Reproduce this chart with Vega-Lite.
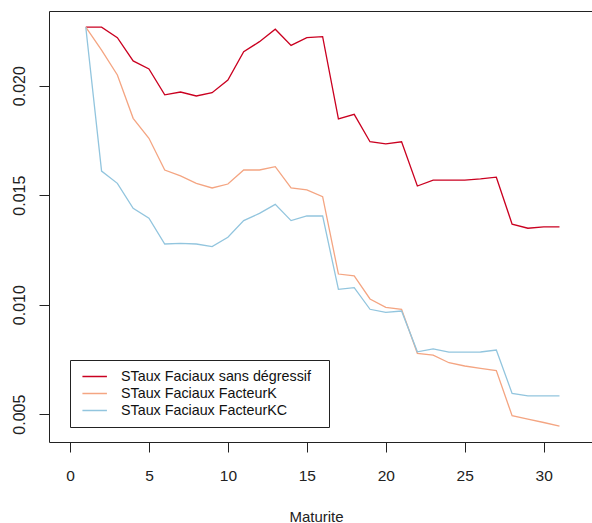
{
  "$schema": "https://vega.github.io/schema/vega-lite/v6.json",
  "autosize": {"type": "none"},
  "padding": {"left": 49, "top": 11, "right": 0, "bottom": 81},
  "width": 543,
  "height": 431,
  "background": "white",
  "config": {
    "view": {"stroke": null},
    "font": "Liberation Sans"
  },
  "datasets": {
    "sans": [
      {"m": 1, "v": 0.02267}, {"m": 2, "v": 0.02267}, {"m": 3, "v": 0.02219}, {"m": 4, "v": 0.02113},
      {"m": 5, "v": 0.02076}, {"m": 6, "v": 0.01958}, {"m": 7, "v": 0.01971}, {"m": 8, "v": 0.01953},
      {"m": 9, "v": 0.01968}, {"m": 10, "v": 0.02026}, {"m": 11, "v": 0.02155}, {"m": 12, "v": 0.02201},
      {"m": 13, "v": 0.02258}, {"m": 14, "v": 0.02184}, {"m": 15, "v": 0.02219}, {"m": 16, "v": 0.02224},
      {"m": 17, "v": 0.01848}, {"m": 18, "v": 0.01869}, {"m": 19, "v": 0.01744}, {"m": 20, "v": 0.01734},
      {"m": 21, "v": 0.01744}, {"m": 22, "v": 0.01542}, {"m": 23, "v": 0.01569}, {"m": 24, "v": 0.01569},
      {"m": 25, "v": 0.01569}, {"m": 26, "v": 0.01574}, {"m": 27, "v": 0.01582}, {"m": 28, "v": 0.01368},
      {"m": 29, "v": 0.01349}, {"m": 30, "v": 0.01355}, {"m": 31, "v": 0.01355}
    ],
    "k": [
      {"m": 1, "v": 0.02267}, {"m": 2, "v": 0.02162}, {"m": 3, "v": 0.02049}, {"m": 4, "v": 0.01851},
      {"m": 5, "v": 0.01760}, {"m": 6, "v": 0.01615}, {"m": 7, "v": 0.01588}, {"m": 8, "v": 0.01554},
      {"m": 9, "v": 0.01533}, {"m": 10, "v": 0.01551}, {"m": 11, "v": 0.01615}, {"m": 12, "v": 0.01615},
      {"m": 13, "v": 0.01630}, {"m": 14, "v": 0.01533}, {"m": 15, "v": 0.01524}, {"m": 16, "v": 0.01493},
      {"m": 17, "v": 0.01140}, {"m": 18, "v": 0.01132}, {"m": 19, "v": 0.01026}, {"m": 20, "v": 0.00988},
      {"m": 21, "v": 0.00979}, {"m": 22, "v": 0.00778}, {"m": 23, "v": 0.00770}, {"m": 24, "v": 0.00735},
      {"m": 25, "v": 0.00720}, {"m": 26, "v": 0.00709}, {"m": 27, "v": 0.00699}, {"m": 28, "v": 0.00493},
      {"m": 29, "v": 0.00477}, {"m": 30, "v": 0.00462}, {"m": 31, "v": 0.00446}
    ],
    "kc": [
      {"m": 1, "v": 0.02267}, {"m": 2, "v": 0.01610}, {"m": 3, "v": 0.01554}, {"m": 4, "v": 0.01440},
      {"m": 5, "v": 0.01395}, {"m": 6, "v": 0.01277}, {"m": 7, "v": 0.01280}, {"m": 8, "v": 0.01277},
      {"m": 9, "v": 0.01265}, {"m": 10, "v": 0.01308}, {"m": 11, "v": 0.01384}, {"m": 12, "v": 0.01417},
      {"m": 13, "v": 0.01458}, {"m": 14, "v": 0.01384}, {"m": 15, "v": 0.01405}, {"m": 16, "v": 0.01405},
      {"m": 17, "v": 0.01070}, {"m": 18, "v": 0.01078}, {"m": 19, "v": 0.00979}, {"m": 20, "v": 0.00965},
      {"m": 21, "v": 0.00971}, {"m": 22, "v": 0.00785}, {"m": 23, "v": 0.00798}, {"m": 24, "v": 0.00783},
      {"m": 25, "v": 0.00783}, {"m": 26, "v": 0.00784}, {"m": 27, "v": 0.00793}, {"m": 28, "v": 0.00595},
      {"m": 29, "v": 0.00584}, {"m": 30, "v": 0.00584}, {"m": 31, "v": 0.00584}
    ]
  },
  "encoding": {
    "y": {
      "field": "v", "type": "quantitative", "title": null,
      "scale": {"domain": [0.00373, 0.02341], "nice": false, "zero": false},
      "axis": {
        "values": [0.005, 0.01, 0.015, 0.02], "format": ".3f", "grid": false,
        "domain": true, "domainColor": "#222", "domainWidth": 1,
        "tickSize": 10, "tickColor": "#222", "labelFontSize": 16, "labelColor": "#222",
        "labelAngle": -90, "labelAlign": "center", "labelBaseline": "alphabetic",
        "labelPadding": 15, "labelFlush": false
      }
    },
    "color": {
      "field": "s", "type": "nominal",
      "scale": {
        "domain": ["STaux Faciaux sans dégressif", "STaux Faciaux FacteurK", "STaux Faciaux FacteurKC"],
        "range": ["#CA0020", "#F4A582", "#92C5DE"]
      },
      "legend": {
        "title": null, "orient": "none", "legendX": 21, "legendY": 349,
        "strokeColor": "#222", "fillColor": "white", "padding": 8,
        "symbolType": "M-0.7,0H1.3", "symbolSize": 600, "symbolStrokeWidth": 1.5,
        "labelFontSize": 14.3, "labelColor": "#111", "labelOffset": 17,
        "clipHeight": 17, "rowPadding": 0, "labelLimit": 300,
        "labelExpr": "datum.label + '\u2800'"
      }
    }
  },
  "resolve": {"axis": {"x": "independent"}},
  "layer": [
    {
      "data": {"name": "sans"},
      "transform": [{"calculate": "'STaux Faciaux sans dégressif'", "as": "s"}],
      "mark": {"type": "line", "strokeWidth": 1.3, "clip": true},
      "encoding": {
        "x": {
          "field": "m", "type": "quantitative", "title": "Maturite",
          "scale": {"domain": [-1.33, 33.06], "nice": false, "zero": false},
          "axis": {
            "orient": "bottom",
            "values": [0, 5, 10, 15, 20, 25, 30], "grid": false,
            "domain": true, "domainColor": "#222", "domainWidth": 1,
            "tickSize": 10, "tickColor": "#222", "labelFontSize": 15.5, "labelColor": "#222",
            "labelPadding": 16, "labelBaseline": "top", "labelFlush": false,
            "titleFontSize": 15, "titleFontWeight": "normal", "titleColor": "#222",
            "titleX": 267, "titleY": 79, "titleBaseline": "alphabetic"
          }
        }
      }
    },
    {
      "data": {"name": "k"},
      "transform": [{"calculate": "'STaux Faciaux FacteurK'", "as": "s"}],
      "mark": {"type": "line", "strokeWidth": 1.3, "clip": true},
      "encoding": {
        "x": {
          "field": "m", "type": "quantitative", "title": null,
          "axis": {
            "orient": "top", "labels": false, "ticks": false, "grid": false,
            "domain": true, "domainColor": "#222", "domainWidth": 1
          }
        }
      }
    },
    {
      "data": {"name": "kc"},
      "transform": [{"calculate": "'STaux Faciaux FacteurKC'", "as": "s"}],
      "mark": {"type": "line", "strokeWidth": 1.3, "clip": true},
      "encoding": {
        "x": {"field": "m", "type": "quantitative", "axis": null}
      }
    }
  ]
}
